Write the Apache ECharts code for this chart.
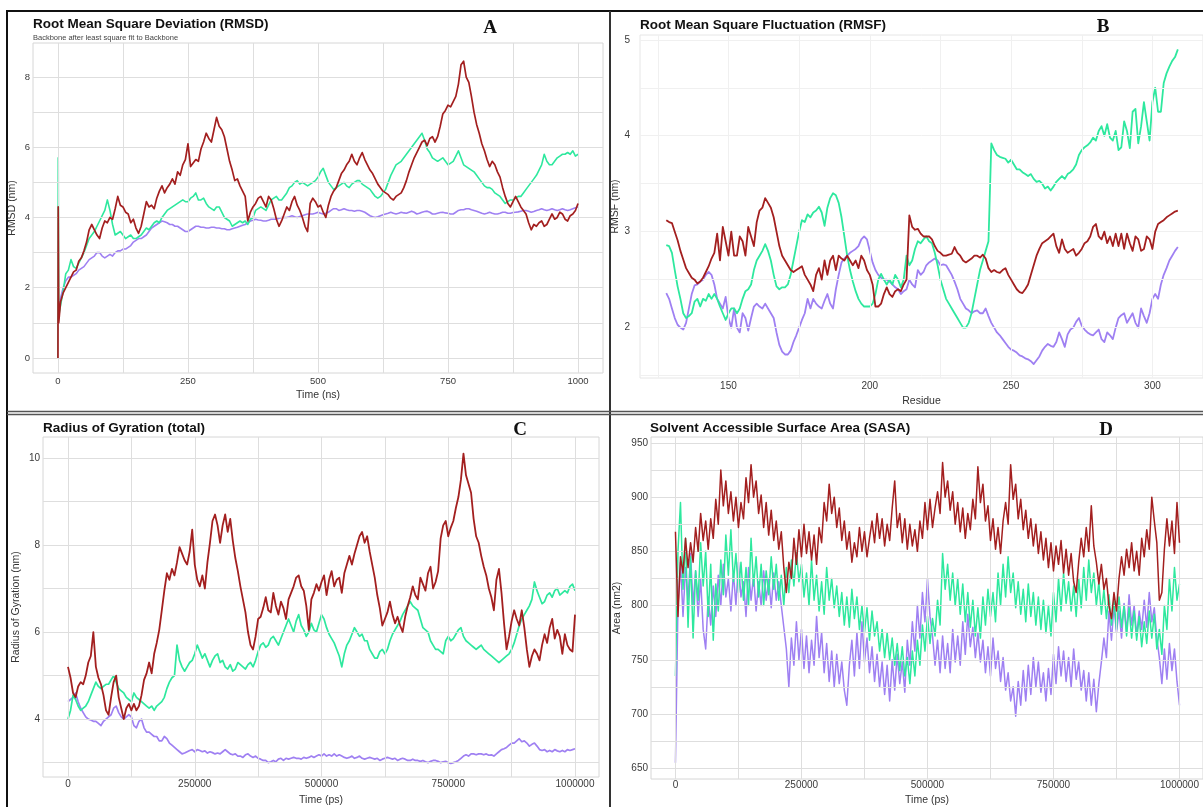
<!DOCTYPE html>
<html>
<head>
<meta charset="utf-8">
<title>MD trajectory analysis</title>
<script src="https://cdn.jsdelivr.net/npm/echarts@6/dist/echarts.min.js"></script>
<style>
html, body { margin: 0; padding: 0; background: #ffffff; }
#chart { width: 1203px; height: 807px; }
</style>
</head>
<body>
<div id="chart"></div>
<script>
// ---------- Panel A: RMSD (ns) ----------
// first frames (0 - 1.5 ns), then one frame every 5 ns from 5 to 1000 ns
const rmsdEarlyTime = [0, 0.5, 1.5];
const rmsdEarlyRed = [0, 4.3, 1.0];
const rmsdEarlyGreen = [0, 5.7, 1.2];
const rmsdEarlyPurple = [0, 1.0, 1.3];
const RMSD_STEP_NS = 5;
const rmsdRed = [
  1.6, 1.85, 2.0, 2.15, 2.3, 2.45, 2.5, 2.75, 2.85, 3.05,
  3.3, 3.65, 3.8, 3.65, 3.5, 3.4, 3.7, 3.9, 3.85, 4.0,
  3.95, 4.25, 4.6, 4.35, 4.3, 4.15, 4.1, 3.85, 3.95, 3.7,
  3.55, 3.75, 4.1, 4.45, 4.3, 4.35, 4.25, 4.55, 4.75, 4.9,
  4.7, 4.85, 4.95, 5.1, 4.95, 5.3, 5.2, 5.5, 5.65, 6.1,
  5.45, 5.55, 5.65, 5.6, 5.95, 6.15, 6.4, 6.25, 6.15, 6.5,
  6.85, 6.6, 6.5, 6.3, 5.95, 5.6, 5.35, 5.05, 5.1, 4.9,
  4.75, 4.6, 3.9, 4.15, 4.3, 4.4, 4.55, 4.6, 4.45, 4.3,
  4.6, 4.5, 4.25, 3.95, 3.75, 3.9, 4.1, 4.3, 4.2, 4.45,
  4.6, 4.35, 4.2, 4.0, 3.75, 3.6, 4.4, 4.55, 4.45, 4.3,
  4.35, 4.15, 4.0, 4.35, 4.6, 4.75, 4.85, 5.05, 5.25, 5.35,
  5.5, 5.6, 5.8, 5.6, 5.5, 5.7, 5.85, 5.65, 5.5, 5.35,
  5.25, 5.1, 4.95, 4.85, 4.75, 4.7, 4.65, 4.55, 4.5, 4.6,
  4.65, 4.7, 4.85, 5.05, 5.3, 5.5, 5.7, 5.85, 6.0, 6.15,
  6.2, 6.05, 6.25, 6.3, 6.15, 6.3, 6.6, 6.95, 7.05, 7.2,
  7.15, 7.3, 7.45, 7.8, 8.35, 8.45, 8.0, 7.85, 7.45, 7.0,
  6.65, 6.4, 6.1, 5.9, 5.65, 5.45, 5.6, 5.5, 5.3, 5.15,
  4.85, 4.6, 4.4, 4.3, 4.45, 4.6, 4.45, 4.3, 4.2, 4.1,
  3.85, 3.65, 3.8, 3.75, 3.85, 3.9, 3.75, 3.8, 3.95, 4.1,
  3.95, 4.0, 4.15, 4.1, 3.95, 3.9, 4.05, 4.1, 4.2, 4.4
];
const rmsdGreen = [
  1.5, 1.9, 2.4, 2.5, 2.8, 2.6, 2.55, 2.7, 2.85, 3.0,
  3.2, 3.4, 3.5, 3.6, 3.75, 3.9, 4.05, 4.2, 4.5, 4.2,
  3.8, 3.5, 3.55, 3.6, 3.5, 3.4, 3.45, 3.5, 3.4, 3.4,
  3.45, 3.5, 3.6, 3.7, 3.65, 3.75, 3.85, 3.9, 3.85, 4.0,
  4.1, 4.2, 4.25, 4.3, 4.35, 4.4, 4.45, 4.5, 4.45, 4.45,
  4.55, 4.6, 4.7, 4.5, 4.5, 4.55, 4.4, 4.3, 4.25, 4.2,
  4.3, 4.3, 4.15, 4.0, 3.95, 3.9, 3.75, 3.8, 3.85, 3.9,
  3.85, 3.9, 3.8, 3.95, 4.0, 4.2, 4.25, 4.3, 4.25, 4.2,
  4.35, 4.5, 4.55, 4.6, 4.5, 4.5, 4.6, 4.7, 4.85, 4.9,
  5.0, 5.05, 4.95, 5.0, 4.95, 4.9, 4.95, 5.0, 5.05, 5.15,
  5.3, 5.4, 5.2, 5.0, 4.9, 4.8, 4.85, 4.9, 4.95, 5.0,
  4.9, 4.85, 4.95, 5.0, 5.05, 5.05, 4.95, 4.9, 4.85, 4.8,
  4.7, 4.6, 4.55, 4.6, 4.7, 4.8, 5.0, 5.2, 5.35, 5.5,
  5.55, 5.6, 5.7, 5.8, 5.9, 6.0, 6.1, 6.2, 6.3, 6.4,
  6.2, 5.95, 5.85, 5.7, 5.65, 5.6, 5.65, 5.7, 5.6, 5.5,
  5.55, 5.6, 5.75, 5.9, 5.7, 5.5, 5.45, 5.4, 5.35, 5.3,
  5.2, 5.1, 5.0, 4.9, 4.85, 4.85, 4.8, 4.7, 4.65, 4.6,
  4.5, 4.4, 4.45, 4.5, 4.5, 4.55, 4.6, 4.6, 4.7, 4.8,
  4.9, 5.0, 5.1, 5.2, 5.35, 5.5, 5.8, 5.6, 5.5, 5.5,
  5.6, 5.7, 5.75, 5.8, 5.8, 5.85, 5.8, 5.9, 5.75, 5.8
];
const rmsdPurple = [
  1.7, 2.0, 2.2, 2.3, 2.3, 2.35, 2.4, 2.5, 2.55, 2.6,
  2.7, 2.8, 2.85, 2.9, 3.0, 3.0, 2.9, 2.85, 2.9, 2.95,
  2.9, 3.0, 3.05, 3.05, 3.1, 3.1, 3.15, 3.2, 3.3, 3.35,
  3.4, 3.4, 3.45, 3.5, 3.6, 3.7, 3.75, 3.8, 3.85, 3.9,
  3.88, 3.85, 3.8, 3.8, 3.75, 3.75, 3.7, 3.65, 3.6, 3.6,
  3.65, 3.7, 3.75, 3.75, 3.72, 3.72, 3.7, 3.7, 3.72, 3.72,
  3.7, 3.7, 3.68, 3.68, 3.65, 3.65, 3.68, 3.7, 3.72, 3.75,
  3.78, 3.8, 3.85, 3.9, 3.92, 3.95, 3.93, 3.92, 3.9, 3.9,
  3.92, 3.95, 3.95, 3.95, 3.98, 4.0, 4.0, 4.0, 4.02, 4.05,
  4.02, 4.0, 4.03, 4.05, 4.08, 4.1, 4.1, 4.1, 4.12, 4.15,
  4.12, 4.1, 4.12, 4.15, 4.2, 4.25, 4.25, 4.2, 4.22, 4.25,
  4.22, 4.2, 4.2, 4.18, 4.2, 4.2, 4.18, 4.15, 4.1, 4.05,
  4.02, 4.0, 4.02, 4.05, 4.08, 4.1, 4.12, 4.15, 4.12, 4.1,
  4.12, 4.15, 4.13, 4.12, 4.15, 4.18, 4.15, 4.1, 4.12, 4.15,
  4.17, 4.18, 4.15, 4.1, 4.1, 4.12, 4.14, 4.15, 4.13, 4.12,
  4.1, 4.1, 4.15, 4.2, 4.22, 4.22, 4.25, 4.25, 4.22, 4.2,
  4.18, 4.15, 4.12, 4.1, 4.12, 4.15, 4.12, 4.1, 4.1, 4.12,
  4.15, 4.15, 4.12, 4.12, 4.14, 4.15, 4.16, 4.18, 4.2, 4.2,
  4.18, 4.15, 4.17, 4.2, 4.22, 4.25, 4.22, 4.2, 4.22, 4.25,
  4.22, 4.2, 4.22, 4.25, 4.22, 4.2, 4.22, 4.25, 4.28, 4.3
];
const rmsdXTicks = [0, 250, 500, 750, 1000];
const rmsdYTicks = [0, 2, 4, 6, 8];

// ---------- Panel B: RMSF per residue (128 - 309) ----------
const RMSF_FIRST_RESIDUE = 128;
const rmsfRed = [
  3.12, 3.1, 3.09, 3.0, 2.91, 2.8, 2.71, 2.62, 2.57, 2.52,
  2.5, 2.46, 2.48, 2.52, 2.58, 2.64, 2.72, 2.78, 2.98, 2.7,
  3.05, 2.9, 2.75, 3.0, 2.75, 2.75, 2.95, 2.9, 2.75, 3.05,
  2.95, 2.85, 3.1, 3.22, 3.25, 3.35, 3.3, 3.25, 3.15, 3.0,
  2.85, 2.75, 2.7, 2.65, 2.6, 2.58, 2.6, 2.62, 2.64, 2.55,
  2.5, 2.45, 2.38, 2.55, 2.62, 2.5, 2.7, 2.55, 2.7, 2.75,
  2.6, 2.75, 2.72, 2.7, 2.75, 2.7, 2.65, 2.7, 2.62, 2.75,
  2.7, 2.6, 2.55, 2.45, 2.22, 2.22, 2.25, 2.35, 2.42, 2.35,
  2.32, 2.38, 2.4, 2.38, 2.45, 2.5, 3.17, 3.05, 3.02, 3.03,
  2.98, 2.95, 2.95, 2.95, 2.92, 2.85, 2.8, 2.78, 2.75, 2.75,
  2.76, 2.77, 2.84, 2.78, 2.75, 2.7, 2.68, 2.7, 2.72, 2.75,
  2.75, 2.73, 2.76, 2.72, 2.62, 2.58, 2.6, 2.58, 2.57, 2.6,
  2.62, 2.55, 2.5, 2.45, 2.4, 2.37, 2.36, 2.4, 2.45, 2.55,
  2.65, 2.75, 2.82, 2.88, 2.9, 2.92, 2.95, 2.98, 2.85, 2.78,
  2.92, 2.82, 2.78, 2.8, 2.82, 2.75, 2.78, 2.82, 2.88, 2.9,
  2.95, 3.05, 3.08, 2.95, 2.92, 3.0, 2.88, 2.95, 2.85, 2.98,
  2.85, 2.98, 2.82, 2.98, 2.88, 2.8, 2.95, 2.92, 2.8, 2.82,
  2.95, 2.92, 2.82, 3.0, 3.08, 3.1, 3.12, 3.15, 3.17, 3.19,
  3.21, 3.22
];
const rmsfGreen = [
  2.86, 2.85, 2.78, 2.6, 2.43, 2.3, 2.15, 2.1, 2.12, 2.15,
  2.27, 2.3, 2.22, 2.3, 2.28, 2.35, 2.3, 2.35, 2.3, 2.22,
  2.15, 2.08, 2.15, 2.2, 2.2, 2.15, 2.2, 2.3, 2.38, 2.4,
  2.45, 2.6, 2.7, 2.75, 2.8, 2.87, 2.8, 2.7, 2.55, 2.43,
  2.4, 2.42, 2.42, 2.45, 2.55, 2.7, 2.85, 3.0, 3.12, 3.1,
  3.18, 3.15, 3.2, 3.22, 3.26, 3.2, 3.06, 3.25, 3.35, 3.4,
  3.38, 3.3, 3.15, 2.95, 2.75, 2.6, 2.48, 2.38, 2.3, 2.25,
  2.22, 2.22, 2.22, 2.25, 2.35, 2.5, 2.56, 2.5, 2.45, 2.5,
  2.45, 2.55, 2.5, 2.42, 2.5, 2.75, 2.65, 2.7, 2.82, 2.9,
  2.88, 2.92, 2.95, 2.9, 2.88, 2.78, 2.65, 2.5, 2.4, 2.3,
  2.25, 2.2, 2.15, 2.1, 2.05, 2.0, 2.0, 2.05, 2.15, 2.3,
  2.45, 2.6, 2.7, 2.8, 2.9, 3.92, 3.85, 3.8, 3.78, 3.77,
  3.76, 3.72, 3.75, 3.7, 3.65, 3.65, 3.62, 3.6, 3.58, 3.6,
  3.55, 3.52, 3.53, 3.5, 3.45, 3.47, 3.43, 3.47, 3.52, 3.55,
  3.58, 3.55, 3.6, 3.62, 3.65, 3.7, 3.8, 3.85, 3.88, 3.9,
  3.93, 3.98, 3.95, 4.05, 4.1, 4.0, 4.12, 3.98, 3.95, 4.05,
  3.85, 3.88, 4.15, 4.05, 3.87, 4.25, 4.28, 3.92, 4.1, 4.35,
  4.15, 3.95, 4.35, 4.5, 4.25, 4.25, 4.55, 4.65, 4.72, 4.78,
  4.82, 4.9
];
const rmsfPurple = [
  2.36, 2.3, 2.2, 2.1, 2.03, 2.0, 1.98, 2.05, 2.2, 2.35,
  2.44, 2.45, 2.48, 2.5, 2.55, 2.58, 2.55, 2.45, 2.3, 2.25,
  2.2, 2.32, 2.1, 2.0, 2.2, 2.0, 1.95, 2.15, 2.1, 1.97,
  2.1, 2.22, 2.25, 2.22, 2.2, 2.25, 2.2, 2.15, 2.1, 1.95,
  1.82, 1.75, 1.72, 1.72, 1.76, 1.85, 1.92, 2.0, 2.08, 2.15,
  2.3, 2.2, 2.3, 2.25, 2.22, 2.2, 2.28, 2.35, 2.25, 2.2,
  2.4, 2.55, 2.68, 2.72, 2.75, 2.78, 2.8, 2.82, 2.85, 2.92,
  2.95, 2.92, 2.8, 2.68, 2.6, 2.55, 2.52, 2.5, 2.5, 2.48,
  2.45, 2.42, 2.4, 2.35, 2.38, 2.4, 2.5, 2.45, 2.42, 2.6,
  2.55, 2.58, 2.65, 2.68, 2.7, 2.72, 2.7, 2.65, 2.66, 2.65,
  2.6, 2.55, 2.48, 2.4, 2.3, 2.25, 2.2, 2.18, 2.15, 2.17,
  2.18, 2.15, 2.15, 2.2, 2.12, 2.05, 2.0, 1.95, 1.92, 1.88,
  1.84, 1.8, 1.77, 1.76, 1.74, 1.71, 1.7, 1.68, 1.67, 1.65,
  1.62, 1.66, 1.7, 1.76, 1.8, 1.83, 1.81, 1.8, 1.85, 1.95,
  1.88, 1.8, 1.93, 1.98, 2.0, 2.06, 2.1, 2.02, 1.98, 1.95,
  1.93, 1.92, 1.95, 1.98, 1.88, 1.85, 1.95, 1.92, 1.88, 2.0,
  2.1, 2.13, 2.15, 2.05, 2.1, 2.15, 2.05, 2.0, 2.2, 2.12,
  2.05, 2.15, 2.3, 2.35, 2.3, 2.45, 2.55, 2.62, 2.7, 2.75,
  2.8, 2.84
];
const rmsfXTicks = [150, 200, 250, 300];
const rmsfYTicks = [2, 3, 4, 5];

// ---------- Panel C: radius of gyration, one frame every 5000 ps ----------
const RG_STEP_PS = 5000;
const rgRed = [
  5.2, 4.95, 4.6, 4.5, 4.75, 4.85, 4.8, 5.0, 5.3, 5.45,
  6.0, 5.2, 4.95, 4.8, 4.55, 4.2, 4.1, 4.5, 4.85, 5.0,
  4.5, 4.25, 4.0, 4.25, 4.35, 4.2, 4.35, 4.2, 4.3, 4.55,
  4.9, 5.05, 5.3, 5.05, 5.5, 5.75, 6.05, 6.5, 6.95, 7.35,
  7.2, 7.45, 7.3, 7.6, 7.95, 7.8, 7.65, 7.55, 7.85, 8.35,
  7.55, 7.2, 7.05, 7.3, 7.0, 7.6, 8.05, 8.55, 8.7, 8.45,
  8.05, 8.45, 8.7, 8.3, 8.6, 8.1, 7.7, 7.4, 7.05, 6.75,
  6.45, 6.0, 5.7, 5.6, 5.9, 6.3, 6.35, 6.55, 6.8, 6.5,
  6.45, 6.9, 6.6, 6.4, 6.7, 6.55, 6.3, 6.75, 6.9, 7.05,
  7.25, 7.3, 7.05, 6.95, 6.6, 6.05, 6.75, 6.9, 7.1, 6.95,
  7.15, 7.3, 6.85, 7.2, 7.4, 7.05, 7.2, 7.25, 6.9, 7.35,
  7.55, 7.75, 7.55, 7.8, 8.0, 8.2, 8.3, 8.05, 8.2, 7.85,
  7.55, 7.25, 6.85, 6.55, 6.15, 6.3, 6.45, 6.7, 6.4, 6.2,
  6.35, 6.15, 6.0, 6.35, 6.6, 6.8, 7.05, 6.85, 6.75, 7.25,
  7.1, 6.95, 7.35, 7.5, 7.0, 7.15, 7.4, 8.15, 8.45, 8.55,
  8.2, 8.4, 8.55, 8.85, 9.1, 9.5, 10.1, 9.6, 9.4, 9.2,
  8.6, 8.2, 8.05, 7.75, 7.5, 7.3, 7.0, 6.8, 6.5, 7.2,
  7.45, 6.9, 6.2, 5.6, 5.9, 6.25, 6.5, 6.3, 6.15, 6.5,
  6.1, 5.6, 5.2, 5.45, 5.6, 5.5, 5.35, 5.7, 5.95, 5.75,
  6.1, 6.3, 5.85, 6.05, 5.9, 5.5, 5.95, 5.7, 5.6, 5.55,
  6.4
];
const rgGreen = [
  4.0, 4.2, 4.55, 4.45, 4.3, 4.2, 4.25, 4.3, 4.4, 4.55,
  4.7, 4.85, 4.75, 4.7, 4.75, 4.8, 4.8, 4.9, 5.0, 4.85,
  4.7, 4.65, 4.6, 4.5, 4.45, 4.4, 4.6, 4.5, 4.45, 4.4,
  4.35, 4.3, 4.25, 4.3, 4.2, 4.3, 4.35, 4.4, 4.5, 4.7,
  4.85, 4.95, 5.0, 5.7, 5.35, 5.2, 5.1, 5.2, 5.3, 5.35,
  5.5, 5.7, 5.55, 5.4, 5.5, 5.35, 5.2, 5.35, 5.45, 5.5,
  5.3, 5.35, 5.2, 5.15, 5.25, 5.1, 5.15, 5.3, 5.25, 5.2,
  5.15, 5.25, 5.3, 5.2, 5.35, 5.55, 5.7, 5.75, 5.65, 5.7,
  5.85, 5.9, 5.8, 5.7, 5.85, 6.0, 6.15, 6.3, 6.15, 6.0,
  6.25, 6.4, 6.15, 6.05, 5.9, 6.0, 6.2, 6.05, 6.0, 6.2,
  6.4, 6.3, 6.1, 5.95, 5.85, 5.75, 5.6, 5.45, 5.2, 5.5,
  5.7, 5.8, 5.95, 6.1, 6.0, 5.9, 5.95, 5.8, 5.8, 5.6,
  5.5, 5.4, 5.4, 5.55, 5.6, 5.5, 5.6, 5.8, 5.95, 6.05,
  6.15, 6.25, 6.4, 6.5, 6.6, 6.7, 6.6, 6.55, 6.5, 6.3,
  6.1, 6.05, 6.0, 5.8, 5.7, 5.6, 5.6, 5.55, 5.5, 5.8,
  5.9, 5.8, 5.85, 5.95, 6.05, 6.1, 5.9, 5.8, 5.75, 5.7,
  5.65, 5.6, 5.65, 5.7, 5.6, 5.55, 5.5, 5.45, 5.4, 5.35,
  5.3, 5.35, 5.4, 5.45, 5.5, 5.6, 5.75, 5.95, 6.15, 6.3,
  6.4, 6.5, 6.6, 6.75, 7.15, 6.95, 6.8, 6.65, 6.7, 6.85,
  6.9, 6.8, 6.95, 7.0, 6.85, 6.9, 6.95, 6.9, 7.05, 7.1,
  6.95
];
const rgPurple = [
  4.4, 4.45, 4.5, 4.6, 4.4, 4.25, 4.15, 4.05, 4.0, 3.98,
  3.95, 3.95, 3.9, 3.85, 3.95, 4.0, 4.05, 4.1, 4.25, 4.3,
  4.15, 4.05, 4.0, 4.05, 4.1, 4.05, 3.85, 3.8, 3.95, 4.0,
  3.8, 3.7, 3.7, 3.65, 3.6, 3.6, 3.5, 3.5, 3.6, 3.55,
  3.45, 3.4, 3.35, 3.3, 3.25, 3.2, 3.22, 3.25, 3.28, 3.3,
  3.25, 3.3, 3.28, 3.25, 3.27, 3.22, 3.25, 3.23, 3.2, 3.22,
  3.2, 3.25, 3.3, 3.25, 3.2, 3.18, 3.2, 3.15, 3.15, 3.12,
  3.18, 3.2, 3.15, 3.12, 3.15, 3.1, 3.08, 3.05, 3.05, 3.0,
  3.02, 3.05, 3.02, 3.08, 3.1, 3.05, 3.1, 3.08, 3.1, 3.12,
  3.1, 3.1, 3.08, 3.12, 3.1, 3.12, 3.15, 3.12, 3.15, 3.18,
  3.15, 3.2, 3.15, 3.18, 3.15, 3.2, 3.15, 3.18, 3.15, 3.12,
  3.1, 3.12, 3.15, 3.1, 3.12, 3.15, 3.1, 3.08, 3.1, 3.12,
  3.1, 3.08, 3.1, 3.05, 3.08, 3.1, 3.12, 3.1, 3.08, 3.1,
  3.05, 3.08, 3.1, 3.08, 3.05, 3.05, 3.08, 3.05, 3.05, 3.03,
  3.05, 3.02, 3.0, 3.03, 3.05, 3.05, 3.03, 3.0, 3.02, 3.03,
  3.0, 2.98, 3.0, 3.02, 3.05, 3.1, 3.15, 3.18, 3.15, 3.2,
  3.2, 3.18, 3.2, 3.2, 3.18, 3.2, 3.17, 3.18, 3.15, 3.2,
  3.25, 3.3, 3.32, 3.35, 3.4, 3.45, 3.45, 3.5, 3.55, 3.48,
  3.5, 3.45, 3.38, 3.42, 3.45, 3.38, 3.3, 3.28, 3.3, 3.25,
  3.28, 3.25, 3.3, 3.27, 3.25, 3.28, 3.25, 3.3, 3.28, 3.3,
  3.32
];
const psXTicks = [0, 250000, 500000, 750000, 1000000];
const rgYTicks = [4, 6, 8, 10];

// ---------- Panel D: SASA, one frame every 5000 ps ----------
const SASA_STEP_PS = 5000;
const sasaRed = [
  868, 790, 845, 830, 862, 835, 858, 840, 872, 850,
  885, 860, 878, 852, 880, 862, 898, 875, 925, 892,
  915, 885, 905, 878, 900, 872, 895, 880, 918, 895,
  930, 900, 915, 885, 902, 872, 895, 865, 888, 860,
  878, 852, 868, 835, 812, 840, 825, 862, 838, 870,
  845, 875, 848, 868, 842, 865, 838, 872, 858, 895,
  878, 912, 885, 900, 872, 890, 860, 878, 852, 868,
  840, 858, 845, 872, 850, 868, 845, 862, 878, 858,
  885, 862, 880, 855, 875, 860, 890, 915, 872, 885,
  858, 880, 852, 875, 855, 870, 850, 878, 862, 895,
  870, 898, 872, 890, 905, 885, 932, 900, 915, 888,
  905, 875, 895, 868, 890, 862, 885, 870, 898, 880,
  928, 895, 912, 878, 892, 860, 880, 852, 872, 848,
  878, 895, 875, 930, 898, 912, 880, 898, 870, 888,
  862, 880, 855, 875, 848, 868, 842, 862, 835, 858,
  832, 855, 838, 860, 830, 852, 828, 848, 822, 812,
  840, 862, 845, 872, 850, 892, 855, 840, 820, 838,
  815, 825, 800, 788, 812, 795, 825, 845, 828, 852,
  835, 858, 832, 850, 828, 862, 845, 870, 852, 900,
  878, 858, 805, 812, 852, 880, 855, 878, 848, 895,
  858
];
const sasaGreen = [
  735, 850, 895, 815, 862, 780, 845, 770, 832, 805,
  858, 818, 850, 790, 838, 768, 820, 795, 842, 810,
  865, 828, 870, 822, 848, 812, 840, 805, 835, 800,
  862, 818, 845, 808, 838, 800, 832, 810, 845, 815,
  838, 805, 828, 800, 835, 812, 842, 818, 850, 822,
  838, 808, 830, 800, 842, 805, 828, 795, 822, 792,
  835, 805, 825, 798, 818, 790, 812, 782, 808, 780,
  815, 788, 808, 778, 800, 775, 798, 768, 795, 772,
  785, 758, 778, 752, 775, 750, 770, 745, 765, 740,
  762, 735, 752, 728, 758, 735, 768, 745, 782, 758,
  790, 765, 788, 772, 805, 782, 848, 815, 838, 805,
  830, 800, 825, 792, 820, 785, 812, 780, 805, 772,
  798, 770, 808, 782, 815, 790, 812, 785, 830, 800,
  838, 808, 845, 812, 830, 798, 822, 792, 815, 785,
  820, 790, 812, 782, 808, 778, 805, 775, 800, 772,
  812, 785, 825, 795, 830, 802, 822, 795, 818, 790,
  825, 798, 835, 805, 842, 812, 830, 800, 822, 792,
  815, 788, 810, 782, 805, 778, 808, 780, 800, 772,
  798, 770, 795, 768, 790, 762, 785, 765, 795, 770,
  792, 760, 778, 755, 800, 778, 825, 795, 835, 805,
  820
];
const sasaPurple = [
  655, 800, 840, 790, 835, 805, 848, 800, 832, 790,
  825, 778, 760, 808, 782, 818, 790, 828, 800, 838,
  808, 825, 795, 830, 800, 840, 808, 822, 790, 835,
  805, 828, 795, 822, 800, 832, 805, 825, 798, 830,
  805, 822, 800, 780, 760, 725, 770, 745, 785, 750,
  778, 742, 772, 738, 768, 745, 790, 752, 775, 738,
  765, 730, 758, 725, 755, 728, 748, 722, 708, 745,
  768, 735, 775, 742, 785, 748, 770, 738, 762, 730,
  755, 725, 748, 718, 745, 712, 750, 722, 755, 728,
  748, 720, 768, 745, 785, 758, 800, 770, 812, 785,
  825, 790, 772, 745, 768, 738, 772, 742, 765, 738,
  778, 748, 772, 745, 785, 755, 792, 762, 780, 752,
  775, 748, 768, 738, 762, 735, 770, 742, 758, 730,
  752, 722, 738, 712, 725, 698, 730, 708, 740, 712,
  745, 718, 752, 725, 748, 720, 738, 712, 742, 718,
  755, 728, 762, 735, 758, 730, 752, 725, 760, 732,
  748, 722, 740, 712, 738, 708, 732, 702, 728, 748,
  770, 752, 795, 768, 800, 775, 795, 770, 802, 775,
  810, 782, 800, 772, 795, 778, 805, 780, 812, 785,
  798, 770, 752, 728, 760, 732, 765, 740, 760, 730,
  708
];
const sasaYTicks = [650, 700, 750, 800, 850, 900, 950];

// grid line positions
const rmsdXGrid = [0, 125, 250, 375, 500, 625, 750, 875, 1000];
const rmsdYGrid = [0, 1, 2, 3, 4, 5, 6, 7, 8];
const rmsfXGrid = [125, 150, 175, 200, 225, 250, 275, 300];
const rmsfYGrid = [1.5, 2, 2.5, 3, 3.5, 4, 4.5, 5];
const psXGrid = [0, 125000, 250000, 375000, 500000, 625000, 750000, 875000, 1000000];
const rgYGrid = [3, 4, 5, 6, 7, 8, 9, 10];
const sasaYGrid = [650, 675, 700, 725, 750, 775, 800, 825, 850, 875, 900, 925, 950];

// ---------- chart construction ----------
const RED = '#a31f1f';
const GREEN = '#2ee89e';
const PURPLE = '#9f80f2';
const SANS = '"Liberation Sans", Arial, sans-serif';
const SERIF = '"Liberation Serif", "Times New Roman", serif';

function sampled(values, step, offset) {
  return values.map((v, i) => [offset + i * step, v]);
}
function early(times, values) {
  return values.map((v, i) => [times[i], v]);
}
const plain = v => String(v);

const panels = [
  { // A
    grid: { left: 33, top: 43, width: 570, height: 330 },
    x: { min: -48, max: 1048, ticks: rmsdXTicks, name: 'Time (ns)', nameGap: 17, labelSize: 9.5, margin: 3 },
    y: { min: -0.43, max: 8.97, ticks: rmsdYTicks, name: 'RMSD (nm)', nameGap: 15, labelSize: 9.5, margin: 3 },
    gridX: rmsdXGrid, gridY: rmsdYGrid, gridColor: '#dedede', border: '#d6d6d6',
    series: [
      { color: PURPLE, width: 1.6, data: early(rmsdEarlyTime, rmsdEarlyPurple).concat(sampled(rmsdPurple, RMSD_STEP_NS, RMSD_STEP_NS)) },
      { color: GREEN, width: 1.6, data: early(rmsdEarlyTime, rmsdEarlyGreen).concat(sampled(rmsdGreen, RMSD_STEP_NS, RMSD_STEP_NS)) },
      { color: RED, width: 1.7, data: early(rmsdEarlyTime, rmsdEarlyRed).concat(sampled(rmsdRed, RMSD_STEP_NS, RMSD_STEP_NS)) }
    ]
  },
  { // B
    grid: { left: 640, top: 35, width: 575, height: 343 },
    x: { min: 118.7, max: 317.9, ticks: rmsfXTicks, name: 'Residue', nameGap: 18, labelSize: 10, margin: 3 },
    y: { min: 1.475, max: 5.05, ticks: rmsfYTicks, name: 'RMSF (nm)', nameGap: 18, labelSize: 10, margin: 10 },
    gridX: rmsfXGrid, gridY: rmsfYGrid, gridColor: '#f0f0f0', border: '#e6e6e6',
    series: [
      { color: PURPLE, width: 1.8, data: sampled(rmsfPurple, 1, RMSF_FIRST_RESIDUE) },
      { color: GREEN, width: 1.8, data: sampled(rmsfGreen, 1, RMSF_FIRST_RESIDUE) },
      { color: RED, width: 1.8, data: sampled(rmsfRed, 1, RMSF_FIRST_RESIDUE) }
    ]
  },
  { // C
    grid: { left: 43, top: 437, width: 556, height: 341 },
    x: { min: -49300, max: 1047300, ticks: psXTicks, name: 'Time (ps)', nameGap: 18, labelSize: 10, margin: 2 },
    y: { min: 2.67, max: 10.48, ticks: rgYTicks, name: 'Radius of Gyration (nm)', nameGap: 21, labelSize: 10, margin: 3 },
    gridX: psXGrid, gridY: rgYGrid, gridColor: '#dedede', border: '#d6d6d6',
    series: [
      { color: PURPLE, width: 1.7, data: sampled(rgPurple, RG_STEP_PS, 0) },
      { color: GREEN, width: 1.7, data: sampled(rgGreen, RG_STEP_PS, 0) },
      { color: RED, width: 1.8, data: sampled(rgRed, RG_STEP_PS, 0) }
    ]
  },
  { // D
    grid: { left: 651, top: 437, width: 564, height: 345 },
    x: { min: -48500, max: 1046600, ticks: psXTicks, name: 'Time (ps)', nameGap: 16, labelSize: 10, margin: 1 },
    y: { min: 640, max: 955.5, ticks: sasaYTicks, name: 'Area (nm2)', nameGap: 28, labelSize: 10, margin: 3 },
    gridX: psXGrid, gridY: sasaYGrid, gridColor: '#dedede', border: '#d6d6d6',
    series: [
      { color: PURPLE, width: 1.5, data: sampled(sasaPurple, SASA_STEP_PS, 0) },
      { color: GREEN, width: 1.5, data: sampled(sasaGreen, SASA_STEP_PS, 0) },
      { color: RED, width: 1.5, data: sampled(sasaRed, SASA_STEP_PS, 0) }
    ]
  }
];

const option = {
  animation: false,
  backgroundColor: '#ffffff',
  grid: [], xAxis: [], yAxis: [], series: [],
  graphic: []
};

panels.forEach((p, gi) => {
  option.grid.push(Object.assign({ show: true, borderColor: p.border, borderWidth: 1, backgroundColor: 'transparent' }, p.grid));
  option.xAxis.push({
    type: 'value', gridIndex: gi, min: p.x.min, max: p.x.max,
    axisLine: { show: false }, axisTick: { show: false }, splitLine: { show: false },
    axisLabel: { customValues: p.x.ticks, formatter: plain, fontSize: p.x.labelSize, color: '#3a3a3a', fontFamily: SANS, margin: p.x.margin, showMinLabel: true, showMaxLabel: true },
    name: p.x.name, nameLocation: 'middle', nameGap: p.x.nameGap,
    nameTextStyle: { fontSize: 10.5, color: '#333', fontFamily: SANS }
  });
  option.yAxis.push({
    type: 'value', gridIndex: gi, min: p.y.min, max: p.y.max,
    axisLine: { show: false }, axisTick: { show: false }, splitLine: { show: false },
    axisLabel: { customValues: p.y.ticks, formatter: plain, fontSize: p.y.labelSize, color: '#3a3a3a', fontFamily: SANS, margin: p.y.margin, showMinLabel: true, showMaxLabel: true },
    name: p.y.name, nameLocation: 'middle', nameGap: p.y.nameGap, nameRotate: 90,
    nameTextStyle: { fontSize: 10.5, color: '#333', fontFamily: SANS }
  });
  // reference grid lines behind the traces
  option.series.push({
    type: 'line', xAxisIndex: gi, yAxisIndex: gi, data: [], z: 1, silent: true,
    markLine: {
      silent: true, symbol: ['none', 'none'], animation: false,
      label: { show: false }, emphasis: { disabled: true },
      lineStyle: { color: p.gridColor, width: 1, type: 'solid' },
      data: p.gridX.map(v => ({ xAxis: v })).concat(p.gridY.map(v => ({ yAxis: v })))
    }
  });
  p.series.forEach((s, si) => {
    option.series.push({
      type: 'line', xAxisIndex: gi, yAxisIndex: gi, data: s.data,
      showSymbol: false, symbol: 'none', silent: true, z: 3 + si, clip: true,
      lineStyle: { color: s.color, width: s.width, join: 'round' },
      itemStyle: { color: s.color }
    });
  });
});

// panel titles and letters
function text(x, y, str, font, fill, align) {
  return { type: 'text', x: x, y: y, silent: true, z: 10,
    style: { text: str, font: font, fill: fill, align: align || 'left', verticalAlign: 'middle' } };
}
option.graphic.push(
  text(33, 24.5, 'Root Mean Square Deviation (RMSD)', 'bold 13.5px ' + SANS, '#111'),
  text(33, 37.5, 'Backbone after least square fit to Backbone', '7.5px ' + SANS, '#444'),
  text(490, 28, 'A', 'bold 19px ' + SERIF, '#111', 'center'),
  text(640, 25.5, 'Root Mean Square Fluctuation (RMSF)', 'bold 13.5px ' + SANS, '#111'),
  text(1103, 27, 'B', 'bold 19px ' + SERIF, '#111', 'center'),
  text(43, 428.5, 'Radius of Gyration (total)', 'bold 13.5px ' + SANS, '#111'),
  text(520, 430, 'C', 'bold 19px ' + SERIF, '#111', 'center'),
  text(650, 428.5, 'Solvent Accessible Surface Area (SASA)', 'bold 13.5px ' + SANS, '#111'),
  text(1106, 430, 'D', 'bold 19px ' + SERIF, '#111', 'center')
);

// figure frame and panel separators
function rule(x1, y1, x2, y2, w, c) {
  return { type: 'line', silent: true, z: 20,
    shape: { x1: x1, y1: y1, x2: x2, y2: y2 }, style: { stroke: c, lineWidth: w } };
}
option.graphic.push(
  rule(6, 11, 1203, 11, 2, '#111'),
  rule(7, 10, 7, 807, 2, '#111'),
  rule(610, 11, 610, 807, 2, '#333'),
  rule(7, 411.5, 1203, 411.5, 1.5, '#555'),
  rule(7, 414.5, 1203, 414.5, 1.5, '#555')
);

const chart = echarts.init(document.getElementById('chart'), null, { renderer: 'canvas' });
chart.setOption(option);
</script>
</body>
</html>
